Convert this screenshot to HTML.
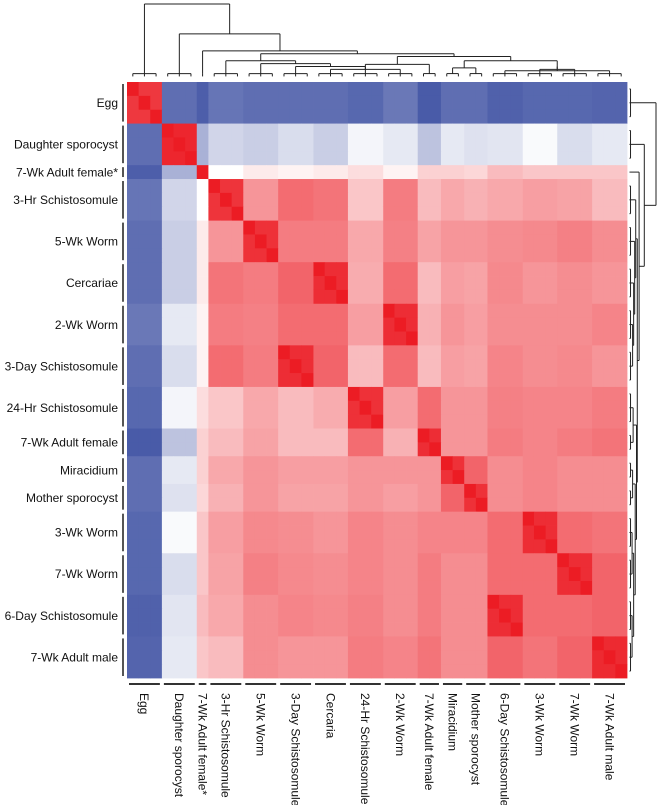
<!DOCTYPE html>
<html><head><meta charset="utf-8"><style>
html,body{margin:0;padding:0;background:#fff;}
svg{display:block;font-family:"Liberation Sans",Arial,sans-serif;}
</style></head><body>
<svg id="chart" width="659" height="805" viewBox="0 0 659 805" xmlns="http://www.w3.org/2000/svg">
<g id="cells"></g>
<g id="dendro-top"></g>
<g id="dendro-right"></g>
<g id="row-labels"></g>
<g id="col-labels"></g>
</svg>
<script>
const rowLabels = ["Egg","Daughter sporocyst","7-Wk Adult female*","3-Hr Schistosomule","5-Wk Worm","Cercariae","2-Wk Worm","3-Day Schistosomule","24-Hr Schistosomule","7-Wk Adult female","Miracidium","Mother sporocyst","3-Wk Worm","7-Wk Worm","6-Day Schistosomule","7-Wk Adult male"];
const colLabels = ["Egg","Daughter sporocyst","7-Wk Adult female*","3-Hr Schistosomule","5-Wk Worm","3-Day Schistosomule","Cercaria","24-Hr Schistosomule","2-Wk Worm","7-Wk Adult female","Miracidium","Mother sporocyst","6-Day Schistosomule","3-Wk Worm","7-Wk Worm","7-Wk Adult male"];
const colOrder = [0,1,2,3,4,7,5,8,6,9,10,11,14,12,13,15];
const replicates = [3,3,1,3,3,3,3,3,3,2,2,2,3,3,3,3];
const corr = [
[0.92,0.10,0.05,0.12,0.10,0.10,0.13,0.10,0.08,0.04,0.10,0.10,0.08,0.08,0.06,0.07],
[0.10,0.97,0.30,0.40,0.38,0.38,0.45,0.42,0.48,0.35,0.45,0.43,0.49,0.42,0.44,0.45],
[0.05,0.30,1.00,0.50,0.52,0.52,0.51,0.51,0.54,0.56,0.56,0.55,0.58,0.58,0.60,0.58],
[0.12,0.40,0.50,0.93,0.68,0.76,0.74,0.78,0.58,0.60,0.64,0.62,0.66,0.65,0.64,0.60],
[0.10,0.38,0.52,0.68,0.94,0.74,0.73,0.74,0.64,0.65,0.68,0.68,0.71,0.73,0.70,0.70],
[0.10,0.38,0.52,0.76,0.74,0.95,0.78,0.80,0.63,0.60,0.66,0.65,0.68,0.70,0.71,0.68],
[0.13,0.45,0.51,0.74,0.73,0.78,0.95,0.78,0.66,0.62,0.68,0.66,0.70,0.70,0.70,0.72],
[0.10,0.42,0.51,0.78,0.74,0.80,0.78,0.95,0.60,0.60,0.66,0.65,0.70,0.71,0.72,0.68],
[0.08,0.48,0.54,0.58,0.64,0.63,0.66,0.60,0.94,0.78,0.68,0.68,0.72,0.72,0.73,0.74],
[0.04,0.35,0.56,0.60,0.65,0.60,0.62,0.60,0.78,0.95,0.68,0.68,0.72,0.74,0.74,0.76],
[0.10,0.45,0.56,0.64,0.68,0.66,0.68,0.66,0.68,0.68,0.94,0.80,0.72,0.70,0.70,0.70],
[0.10,0.43,0.55,0.62,0.68,0.65,0.66,0.65,0.68,0.68,0.80,0.94,0.72,0.70,0.70,0.70],
[0.08,0.49,0.58,0.66,0.71,0.68,0.70,0.70,0.72,0.72,0.72,0.72,0.95,0.78,0.78,0.76],
[0.08,0.42,0.58,0.65,0.73,0.70,0.70,0.71,0.72,0.74,0.70,0.70,0.78,0.95,0.78,0.80],
[0.06,0.44,0.60,0.64,0.70,0.71,0.70,0.72,0.73,0.74,0.70,0.70,0.78,0.78,0.95,0.80],
[0.07,0.45,0.58,0.60,0.70,0.68,0.72,0.68,0.74,0.76,0.70,0.70,0.76,0.80,0.80,0.96]
];
const topTree = {h:1.0,c:[0,{h:0.58,c:[1,{h:0.34,c:[2,{h:0.3,c:[
  {h:0.2,c:[3,{h:0.16,c:[4,{h:0.12,c:[{h:0.08,c:[5,6]},7]}]}]},
  {h:0.26,c:[{h:0.15,c:[8,9]},{h:0.2,c:[{h:0.1,c:[10,11]},{h:0.12,c:[{h:0.08,c:[12,13]},{h:0.06,c:[14,15]}]}]}]}]}]}]}]};
const rightTree = {h:1.0,c:[0,{h:0.55,c:[1,{h:0.35,c:[2,{h:0.28,c:[
  {h:0.22,c:[3,{h:0.18,c:[4,{h:0.14,c:[5,{h:0.1,c:[6,7]}]}]}]},
  {h:0.25,c:[{h:0.12,c:[8,9]},{h:0.2,c:[{h:0.1,c:[10,11]},{h:0.14,c:[{h:0.08,c:[12,13]},{h:0.08,c:[14,15]}]}]}]}]}]}]}]};

const NS="http://www.w3.org/2000/svg";
const X0=127, X1=627, Y0=82, Y1=678;
const nR = replicates.reduce((a,b)=>a+b,0);
const cw=(X1-X0)/nR, rh=(Y1-Y0)/nR;
function mk(tag,attrs,parent){const e=document.createElementNS(NS,tag);for(const k in attrs)e.setAttribute(k,attrs[k]);parent.appendChild(e);return e;}
function color(v){
  const b=[59,78,161], r=[236,28,36];
  let c;
  if(v<0.5){const t=Math.pow((0.5-v)/0.5,0.9);c=[255+(b[0]-255)*t,255+(b[1]-255)*t,255+(b[2]-255)*t];}
  else{const t=Math.pow((v-0.5)/0.5,0.75);c=[255+(r[0]-255)*t,255+(r[1]-255)*t,255+(r[2]-255)*t];}
  return "rgb("+c.map(Math.round).join(",")+")";
}
const rowStart=[];let acc=0;for(let g=0;g<16;g++){rowStart[g]=acc;acc+=replicates[g];}
const colStart=[];acc=0;for(let k=0;k<16;k++){colStart[colOrder[k]]=acc;acc+=replicates[colOrder[k]];}
function xCell(i){return X0+i*cw;} function yCell(i){return Y0+i*rh;}

const cells=document.getElementById('cells');
for(let rg=0;rg<16;rg++)for(let ri=0;ri<replicates[rg];ri++){
  for(let cg=0;cg<16;cg++)for(let ci=0;ci<replicates[cg];ci++){
    let v=corr[rg][cg];
    if(rg===cg&&ri===ci)v=1.0;
    const r=rowStart[rg]+ri, c=colStart[cg]+ci;
    const rect=mk('rect',{x:xCell(c).toFixed(2),y:yCell(r).toFixed(2),width:(cw+0.4).toFixed(2),height:(rh+0.4).toFixed(2),fill:color(v)},cells);
    
    
  }
}

const rl=document.getElementById('row-labels');
for(let g=0;g<16;g++){
  const yt=yCell(rowStart[g])+2, yb=yCell(rowStart[g]+replicates[g])-2;
  const bar=mk('line',{x1:123,x2:123,y1:yt,y2:yb,stroke:'#555','stroke-width':2},rl);
  
  
  const t=mk('text',{x:118,y:(yt+yb)/2+4.2,'text-anchor':'end','font-size':12,fill:'#111'},rl);
  t.textContent=rowLabels[g];
  
  
}
const cl=document.getElementById('col-labels');
for(let k=0;k<16;k++){
  const g=colOrder[k];
  const xl=xCell(colStart[g])+2, xr=xCell(colStart[g]+replicates[g])-2;
  const bar=mk('line',{x1:xl,x2:xr,y1:684,y2:684,stroke:'#333','stroke-width':2},cl);
  
  
  const cx=(xl+xr)/2-4.2;
  const t=mk('text',{x:0,y:0,transform:'translate('+cx.toFixed(1)+',693) rotate(90)','text-anchor':'start','font-size':12,fill:'#111'},cl);
  t.textContent=colLabels[k];
  
  
}

function drawTree(tree,gid,posOf,levelOf,horizontal){
  const gEl=document.getElementById(gid);
  function line(a1,b1,a2,b2){
    const at=horizontal?{x1:b1,y1:a1,x2:b2,y2:a2}:{x1:a1,y1:b1,x2:a2,y2:b2};
    at.stroke='#222';at['stroke-width']=1;
    const l=mk('line',at,gEl);
    
    
  }
  function leaf(g){
    const cs=posOf(g);const hLeaf=levelOf(0.02), hEdge=levelOf(-0.02);
    if(cs.length>1){
      line(cs[0],hLeaf,cs[cs.length-1],hLeaf);
      cs.forEach(p=>line(p,hLeaf,p,hEdge));
    } else line(cs[0],hLeaf,cs[0],hEdge);
    return {p:(cs[0]+cs[cs.length-1])/2,h:hLeaf};
  }
  function rec(n){
    if(typeof n==='number')return leaf(n);
    const ch=n.c.map(rec);const h=levelOf(n.h);
    ch.forEach(c=>line(c.p,c.h,c.p,h));
    const ps=ch.map(c=>c.p);
    line(Math.min(...ps),h,Math.max(...ps),h);
    return {p:(Math.min(...ps)+Math.max(...ps))/2,h:h};
  }
  rec(tree);
}
drawTree(topTree,'dendro-top',
  g=>{const a=[];for(let i=0;i<replicates[g];i++)a.push(xCell(colStart[g]+i)+cw/2);return a;},
  h=>Y0-7-h*71, false);
drawTree(rightTree,'dendro-right',
  g=>{const a=[];for(let i=0;i<replicates[g];i++)a.push(yCell(rowStart[g]+i)+rh/2);return a;},
  h=>X1+3+h*26, true);
</script>
</body></html>
